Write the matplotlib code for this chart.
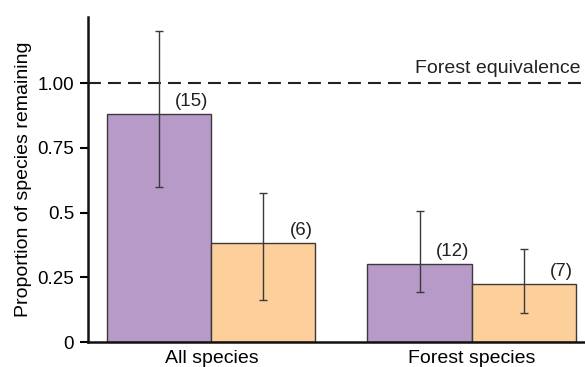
import matplotlib.pyplot as plt
import numpy as np

plt.rcParams['font.family'] = ['Liberation Sans', 'DejaVu Sans']

groups = ["All species", "Forest species"]
purple_vals = [0.88, 0.30]
purple_lo = [0.598, 0.193]
purple_hi = [1.20, 0.506]
orange_vals = [0.382, 0.224]
orange_lo = [0.162, 0.112]
orange_hi = [0.575, 0.359]
purple_n = ["(15)", "(12)"]
orange_n = ["(6)", "(7)"]

fig = plt.figure(figsize=(5.85, 3.67), dpi=100)
ax = fig.add_axes([0.1504, 0.0681, 0.8496, 0.8856])

x = np.arange(len(groups))
w = 0.4
purple = "#b79ac8"
orange = "#fccf9b"
edge = "#3a3a3a"
fs = 13.5

for xs, vals, lo, hi, col, labels in [
    (x - w / 2, purple_vals, purple_lo, purple_hi, purple, purple_n),
    (x + w / 2, orange_vals, orange_lo, orange_hi, orange, orange_n),
]:
    vals = np.array(vals)
    yerr = [vals - np.array(lo), np.array(hi) - vals]
    ax.bar(xs, vals, width=w, color=col, edgecolor=edge, linewidth=1, zorder=2)
    ax.errorbar(xs, vals, yerr=yerr, fmt='none', ecolor=edge, elinewidth=1,
                capsize=3.2, capthick=1, zorder=3)
    for xi, v, lab in zip(xs, vals, labels):
        ax.text(xi + w / 2 - 0.01, v + 0.015, lab, ha='right', va='bottom',
                fontsize=fs, color='#222222')

ax.axhline(1.0, color='#222222', linestyle=(0, (6.2, 3.4)), linewidth=1.5, zorder=1)
ax.text(0.99, 1.025, "Forest equivalence", transform=ax.get_yaxis_transform(),
        ha='right', va='bottom', fontsize=14, color='#222222')

ax.set_xlim(-0.474, 1.436)
ax.set_ylim(0, 1.255)
ax.set_yticks([0, 0.25, 0.5, 0.75, 1.0])
ax.set_yticklabels(["0", "0.25", "0.5", "0.75", "1.00"])
ax.set_xticks(x)
ax.set_xticklabels(groups)
ax.tick_params(axis='x', length=0, pad=6, labelsize=14)
ax.tick_params(axis='y', length=6, width=1.5, labelsize=fs, pad=4, direction='out')
ax.set_ylabel("Proportion of species remaining", fontsize=14, labelpad=4)

for s in ['top', 'right']:
    ax.spines[s].set_visible(False)
for s in ['left', 'bottom']:
    ax.spines[s].set_linewidth(1.8)
    ax.spines[s].set_color('#111111')

fig.savefig("out.png", dpi=100)
